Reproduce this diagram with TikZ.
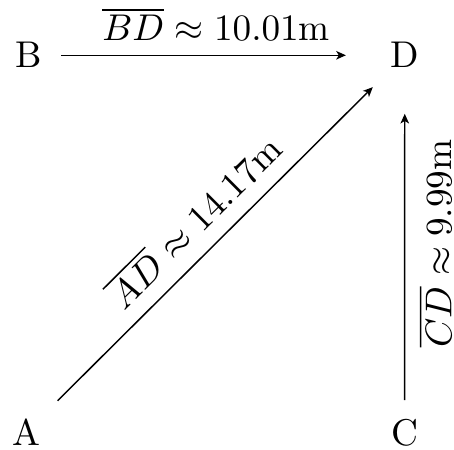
\documentclass[tikz,border=0pt]{standalone}
\usetikzlibrary{arrows.meta}
\tikzset{
  pt/.style={inner sep=0pt, anchor=base},
  lbl/.style={inner sep=0pt},
  arr/.style={line width=0.4pt, -{Stealth[length=2.6pt,width=2.3pt,inset=0.7pt]}}
}
\begin{document}
\begin{tikzpicture}[x=0.2685pt,y=-0.2685pt]
\useasboundingbox (0,0) rectangle (454,450);
\node[pt] (B) at (28.5,68) {B};
\node[pt] (D) at (404.8,68) {D};
\node[pt] (A) at (26.5,445) {A};
\node[pt] (C) at (404.5,445) {C};
\draw[arr, shorten <=5pt, shorten >=11.8pt] (B) -- node[lbl, midway, above=3.76pt] {$\overline{BD}\approx 10.01$m} (D);
\draw[arr, shorten <=6.4pt, shorten >=7pt] (A) -- node[lbl, midway, sloped, above=4.2pt] {$\overline{AD}\approx 14.17$m} (D);
\draw[arr, shorten <=4.8pt, shorten >=12.1pt] (C) -- node[lbl, midway, sloped, below=3.5pt] {$\overline{CD}\approx 9.99$m} (D);
\end{tikzpicture}
\end{document}
